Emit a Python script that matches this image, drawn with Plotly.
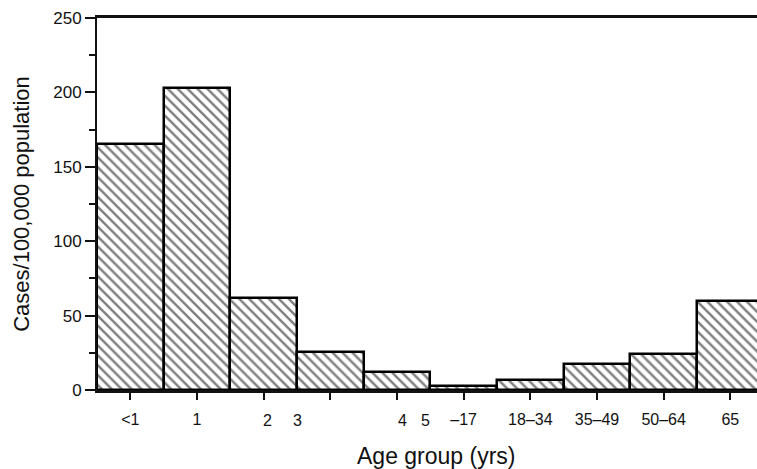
import plotly.graph_objects as go

age_groups = ["<1", "1", "2", "3", "4-5", "6-17", "18-34", "35-49", "50-64", "65+"]
tick_labels = ["<1", "1", "", "", "", "\u201317", "18\u201334", "35\u201349", "50\u201364", "65"]
# stray labels printed off-centre in the original figure
stray_labels = ["2", "3", "4", "5"]
stray_pos = [2.05, 2.5, 4.08, 4.42]
rates = [165, 203, 62, 25.5, 12, 2.7, 6.7, 17.5, 24, 60]

xs = list(range(len(age_groups)))

fig = go.Figure(go.Bar(
    x=xs, y=rates, width=1.0,
    marker=dict(color="white", line=dict(color="#000", width=2.5),
                pattern=dict(shape="\\", fgcolor="#000", bgcolor="white", size=7, solidity=0.35)),
    hoverinfo="skip",
))

font = "Liberation Sans, Arial, sans-serif"
for t, p in zip(stray_labels, stray_pos):
    fig.add_annotation(x=p, y=0, xref="x", yref="paper", text=t, showarrow=False,
                       yshift=-30, yanchor="middle", xanchor="center",
                       font=dict(size=16, family=font, color="#111"))

fig.add_annotation(x=0.514, y=0, xref="paper", yref="paper", text="Age group (yrs)",
                   showarrow=False, yshift=-66, yanchor="middle", xanchor="center",
                   font=dict(size=23, family=font, color="#111"))

fig.update_layout(
    width=757, height=469,
    margin=dict(l=97, r=0, t=18, b=79),
    paper_bgcolor="white", plot_bgcolor="white",
    showlegend=False, bargap=0,
    font=dict(family=font, color="#111"),
)
fig.update_xaxes(
    range=[-0.5, 9.4], tickvals=xs, ticktext=tick_labels,
    showline=True, linecolor="#111", linewidth=3, mirror=True,
    ticks="outside", ticklen=7, tickwidth=2, tickcolor="#111",
    ticklabelstandoff=6,
    showgrid=False, zeroline=False,
    tickfont=dict(size=16, family=font),
)
fig.update_yaxes(
    range=[0, 250], tickvals=[0, 50, 100, 150, 200, 250],
    showline=True, linecolor="#111", linewidth=2,
    ticks="outside", ticklen=10, tickwidth=2, tickcolor="#111",
    minor=dict(ticks="outside", ticklen=6, tickwidth=2, tickcolor="#111", dtick=25),
    showgrid=False, zeroline=False,
    tickfont=dict(size=17, family=font),
    title=dict(text="Cases/100,000 population", font=dict(size=22, family=font), standoff=18),
)

fig.write_html("out.html")
